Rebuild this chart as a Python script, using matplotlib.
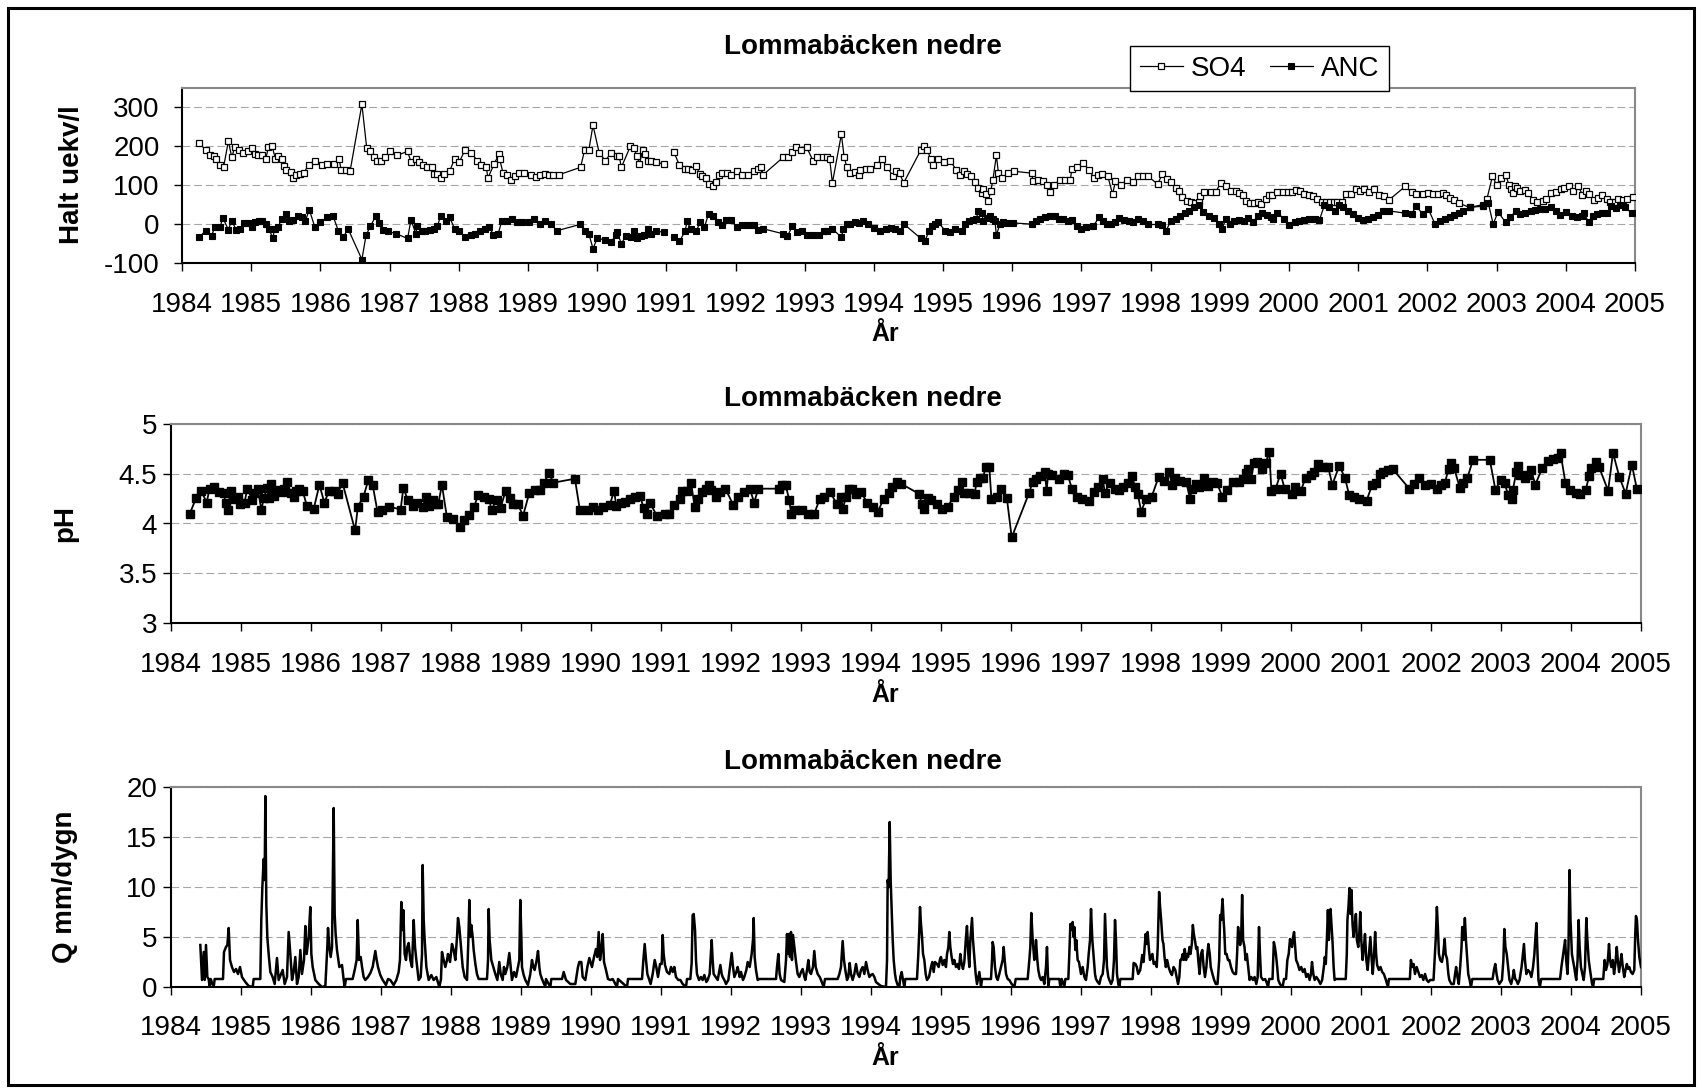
import numpy as np
import matplotlib
matplotlib.use("Agg")
import matplotlib.pyplot as plt
from matplotlib.patches import Rectangle

plt.rcParams['font.family'] = ['Liberation Sans', 'DejaVu Sans']

# ---------------- data ----------------
title_text = "Lommabäcken nedre"
year_ticks = list(range(1984, 2006))
nan = np.nan

so4_year = [
    1984.25, 1984.34, 1984.41, 1984.46, 1984.49, 1984.55, 1984.60, 1984.67, 1984.72, 1984.76,
    1984.82, 1984.88, 1984.95, 1985.01, 1985.05, 1985.10, 1985.15, 1985.21, 1985.25, 1985.30,
    1985.35, 1985.39, 1985.44, 1985.47, 1985.51, 1985.57, 1985.61, 1985.65, 1985.70, 1985.76,
    1985.83, 1985.92, 1986.02, 1986.09, 1986.19, 1986.27, 1986.30, 1986.37, 1986.43, 1986.60,
    1986.67, 1986.71, 1986.77, 1986.82, 1986.87, 1986.94, 1987.01, 1987.11, 1987.26, 1987.31,
    1987.38, 1987.43, 1987.49, 1987.54, 1987.62, 1987.64, 1987.68, 1987.74, 1987.79, 1987.87,
    1987.94, 1988.01, 1988.09, 1988.18, 1988.27, 1988.32, 1988.40, 1988.42, 1988.51, 1988.58,
    1988.59, 1988.64, 1988.70, 1988.76, 1988.81, 1988.87, 1988.95, 1989.04, 1989.11, 1989.18,
    1989.25, 1989.30, 1989.36, 1989.45, 1989.76, 1989.82, 1989.88, 1989.94, 1990.03, 1990.12,
    1990.20, 1990.28, 1990.32, 1990.35, 1990.48, 1990.53, 1990.58, 1990.61, 1990.66, 1990.69,
    1990.73, 1990.78, 1990.85, 1990.96, 1991.03,
    1991.11, 1991.19, 1991.27, 1991.32, 1991.37, 1991.43, 1991.48, 1991.51, 1991.57, 1991.61,
    1991.67, 1991.72, 1991.76, 1991.81, 1991.88, 1991.94, 1992.02, 1992.10, 1992.18, 1992.27,
    1992.33, 1992.37, 1992.40, 1992.69, 1992.76, 1992.82, 1992.87, 1992.95, 1993.03, 1993.12,
    1993.18, 1993.26, 1993.32, 1993.36, 1993.40, 1993.53, 1993.57, 1993.61, 1993.66, 1993.72,
    1993.78, 1993.80, 1993.88, 1993.95, 1994.04, 1994.11, 1994.19, 1994.28, 1994.32, 1994.37,
    1994.43, 1994.68, 1994.73, 1994.77, 1994.82, 1994.86, 1994.93, 1995.02, 1995.10, 1995.19,
    1995.25, 1995.30, 1995.34, 1995.40, 1995.46, 1995.51, 1995.56, 1995.58, 1995.62, 1995.65,
    1995.69, 1995.72, 1995.77, 1995.80, 1995.85, 1995.94, 1996.02, 1996.28, 1996.30, 1996.37,
    1996.45, 1996.50, 1996.55, 1996.60, 1996.69, 1996.76, 1996.84, 1996.86, 1996.94, 1997.02,
    1997.11, 1997.18, 1997.24, 1997.30, 1997.38, 1997.45, 1997.49, 1997.57, 1997.66, 1997.74,
    1997.81, 1997.89, 1997.96,
    1998.10, 1998.17, 1998.24, 1998.30, 1998.36, 1998.41, 1998.46, 1998.52, 1998.58, 1998.64,
    1998.70, 1998.72, 1998.77, 1998.87, 1998.94, 1999.01, 1999.09, 1999.16, 1999.23, 1999.28,
    1999.33, 1999.38, 1999.43, 1999.50, 1999.55, 1999.59, 1999.67, 1999.71, 1999.76, 1999.83,
    1999.91, 1999.98, 2000.04, 2000.10, 2000.16, 2000.22, 2000.29, 2000.35, 2000.41, 2000.48,
    2000.53, 2000.59, 2000.65, 2000.70, 2000.77, 2000.82, 2000.90, 2000.97, 2001.03, 2001.09,
    2001.16, 2001.23, 2001.30, 2001.37, 2001.45, 2001.68, 2001.77, 2001.84, 2001.93, 2002.01,
    2002.08, 2002.15, 2002.23, 2002.27, 2002.32, 2002.39, 2002.45, 2002.61, 2002.80, 2002.86,
    2002.94, 2003.00, 2003.06, 2003.13, 2003.18, 2003.21, 2003.24, 2003.26, 2003.30, 2003.34,
    2003.41, 2003.46, 2003.52, 2003.59, 2003.67, 2003.72, 2003.78, 2003.86, 2003.93, 2003.97,
    2004.05, 2004.11, 2004.18, 2004.24, 2004.29, 2004.34, 2004.41, 2004.47, 2004.53, 2004.60,
    2004.64, 2004.71, 2004.76, 2004.83, 2004.89, 2004.97,
]
so4_ueq = [
    208, 191, 178, 174, 168, 151, 146, 213, 172, 197,
    190, 183, 187, 195, 180, 178, 177, 168, 198, 202,
    168, 174, 168, 150, 140, 133, 118, 125, 130, 131,
    153, 163, 151, 154, 154, 168, 140, 140, 137, 308,
    195, 189, 172, 163, 163, 172, 187, 177, 187, 160,
    168, 160, 153, 146, 146, 129, 129, 118, 129, 137,
    168, 160, 191, 183, 163, 151, 146, 118, 154, 180,
    168, 131, 125, 114, 123, 131, 131, 127, 120, 125,
    130, 125, 125, 127, 146, 191, 191, 254, 183, 163,
    183, 174, 174, 146, 200, 195, 174, 154, 191, 180,
    163, 163, 160, 154, nan,
    185, 151, 142, 142, 140, 150, 129, 124, 118, 103,
    97, 108, 127, 131, 131, 127, 136, 127, 127, 137,
    142, 146, 127, 172, 172, 185, 197, 191, 197, 163,
    172, 172, 172, 168, 106, 231, 172, 146, 131, 134,
    127, 140, 142, 142, 151, 168, 146, 123, 137, 131,
    106, 191, 202, 191, 168, 151, 168, 160, 163, 140,
    125, 137, 129, 123, 108, 94, 80, 91, 77, 60,
    86, 114, 177, 131, 118, 131, 136, 131, 110, 114,
    110, 100, 82, 101, 114, 114, 114, 142, 146, 157,
    140, 118, 127, 129, 123, 77, 110, 101, 114, 108,
    123, 123, 123,
    103, 129, 116, 108, 93, 84, 69, 60, 57, 54,
    57, 71, 82, 82, 82, 106, 97, 86, 86, 80,
    74, 60, 54, 54, 57, 52, 65, 74, 74, 82,
    82, 82, 82, 88, 84, 77, 74, 71, 65, 58,
    57, 57, 57, 57, 57, 77, 77, 91, 86, 91,
    82, 91, 76, 71, 63, 97, 82, 77, 77, 80,
    77, 77, 80, 74, 67, 63, 54, 43, 46, 65,
    123, 101, 118, 127, 101, 91, 80, 97, 93, 86,
    88, 80, 63, 58, 60, 65, 80, 82, 91, 94,
    97, 86, 97, 76, 86, 77, 63, 67, 76, 65,
    57, 58, 65, 63, 65, 69,
]

anc_year = [
    1984.25, 1984.34, 1984.43, 1984.47, 1984.55, 1984.59, 1984.67, 1984.72, 1984.78, 1984.84,
    1984.89, 1984.96, 1985.01, 1985.06, 1985.12, 1985.16, 1985.22, 1985.26, 1985.31, 1985.34,
    1985.39, 1985.44, 1985.50, 1985.55, 1985.61, 1985.68, 1985.73, 1985.78, 1985.84, 1985.92,
    1986.00, 1986.09, 1986.18, 1986.26, 1986.33, 1986.40, 1986.60, 1986.66, 1986.72, 1986.80,
    1986.85, 1986.91, 1986.98, 1987.10, 1987.26, 1987.31, 1987.38, 1987.40, 1987.47, 1987.51,
    1987.58, 1987.64, 1987.69, 1987.74, 1987.81, 1987.87, 1987.94, 1988.00, 1988.09, 1988.18,
    1988.24, 1988.31, 1988.38, 1988.44, 1988.50, 1988.57, 1988.62, 1988.70, 1988.77, 1988.84,
    1988.92, 1989.01, 1989.09, 1989.18, 1989.25, 1989.33, 1989.42, 1989.75, 1989.82, 1989.88,
    1989.94, 1990.00, 1990.11, 1990.20, 1990.27, 1990.29, 1990.35, 1990.41, 1990.49, 1990.53,
    1990.57, 1990.63, 1990.68, 1990.73, 1990.78, 1990.85, 1990.96, 1991.03,
    1991.11, 1991.19, 1991.27, 1991.30, 1991.35, 1991.43, 1991.49, 1991.55, 1991.61, 1991.67,
    1991.74, 1991.80, 1991.86, 1991.93, 1992.02, 1992.10, 1992.18, 1992.27, 1992.33, 1992.40,
    1992.69, 1992.75, 1992.82, 1992.89, 1992.96, 1993.04, 1993.12, 1993.20, 1993.28, 1993.32,
    1993.40, 1993.53, 1993.56, 1993.61, 1993.66, 1993.72, 1993.78, 1993.84, 1993.92, 1994.00,
    1994.09, 1994.17, 1994.24, 1994.31, 1994.37, 1994.44, 1994.68, 1994.74, 1994.79, 1994.84,
    1994.89, 1994.93, 1995.03, 1995.10, 1995.17, 1995.27, 1995.32, 1995.37, 1995.43, 1995.48,
    1995.51, 1995.56, 1995.58, 1995.63, 1995.68, 1995.72, 1995.75, 1995.77, 1995.82, 1995.87,
    1995.93, 1996.01, 1996.28, 1996.34, 1996.40, 1996.47, 1996.54, 1996.62, 1996.68, 1996.74,
    1996.81, 1996.87, 1996.93, 1997.00, 1997.07, 1997.17, 1997.25, 1997.31, 1997.37, 1997.42,
    1997.48, 1997.54, 1997.61, 1997.68, 1997.74, 1997.81, 1997.89, 1997.96,
    1998.10, 1998.17, 1998.22, 1998.29, 1998.36, 1998.43, 1998.50, 1998.56, 1998.63, 1998.70,
    1998.76, 1998.84, 1998.92, 1998.99, 1999.03, 1999.09, 1999.14, 1999.21, 1999.28, 1999.35,
    1999.41, 1999.48, 1999.55, 1999.61, 1999.68, 1999.74, 1999.77, 1999.83, 1999.93, 2000.00,
    2000.08, 2000.15, 2000.22, 2000.29, 2000.37, 2000.44, 2000.51, 2000.58, 2000.66, 2000.72,
    2000.78, 2000.85, 2000.92, 2000.99, 2001.07, 2001.14, 2001.21, 2001.28, 2001.36, 2001.44,
    2001.68, 2001.77, 2001.84, 2001.93, 2002.01, 2002.11, 2002.18, 2002.25, 2002.32, 2002.39,
    2002.45, 2002.51, 2002.61, 2002.80, 2002.88, 2002.95, 2003.02, 2003.13, 2003.19, 2003.28,
    2003.34, 2003.41, 2003.49, 2003.55, 2003.62, 2003.70, 2003.78, 2003.86, 2003.92, 2004.00,
    2004.09, 2004.16, 2004.23, 2004.26, 2004.33, 2004.39, 2004.45, 2004.52, 2004.60, 2004.66,
    2004.73, 2004.78, 2004.86, 2004.95,
]
anc_ueq = [
    -34, -17, -30, -8, -8, 16, -14, 9, -14, -12,
    3, 3, -8, 5, 9, 7, -1, -12, -37, -12,
    -8, 14, 26, 9, 11, 20, 17, 7, 37, -8,
    5, 17, 22, -17, -34, -12, -91, -29, -6, 20,
    3, -14, -19, -25, -37, 11, -25, -6, -19, -17,
    -14, -12, -6, 22, 9, 17, -12, -17, -34, -29,
    -25, -17, -12, -8, -27, -25, 7, 9, 14, 5,
    5, 5, 14, -1, 9, -1, -17, -1, -17, -25,
    -63, -37, -40, -46, -29, -20, -51, -31, -34, -19,
    -37, -31, -29, -12, -25, -19, -20, nan,
    -34, -44, -19, 7, -12, -19, 5, -8, 26, 20,
    5, -3, 11, 11, -8, -3, -3, -3, -14, -12,
    -25, -31, -6, -20, -17, -29, -29, -29, -17, -19,
    -12, -34, -12, 0, -1, 5, 3, 7, -1, -10,
    -19, -12, -10, -12, -19, -1, -37, -44, -19, -6,
    0, 5, -17, -20, -12, -19, 0, 7, 11, 14,
    34, 28, 7, 16, 20, 14, 7, -29, 0, 5,
    3, 3, 0, 9, 14, 17, 22, 20, 14, 14,
    9, 11, -6, -12, -8, -6, 17, 9, -1, 0,
    5, 16, 11, 9, 5, 14, 9, -1,
    -1, -3, -19, 9, 14, 20, 28, 34, 43, 50,
    31, 22, 16, 0, -12, 14, 0, 9, 11, 9,
    16, 5, 22, 28, 24, 17, 14, 28, 14, -3,
    5, 9, 11, 14, 14, 11, 48, 43, 34, 50,
    43, 33, 26, 16, 11, 14, 17, 24, 34, 34,
    28, 26, 46, 26, 40, 0, 7, 14, 17, 24,
    28, 34, 43, 50, 54, 0, 31, 5, 17, 34,
    26, 28, 33, 37, 40, 40, 43, 34, 24, 31,
    20, 17, 20, 28, 5, 20, 26, 28, 28, 46,
    41, 48, 43, 28,
]

ph_year = [
    1984.27, 1984.36, 1984.43, 1984.51, 1984.55, 1984.61, 1984.68, 1984.75, 1984.78, 1984.81,
    1984.85, 1984.90, 1984.95, 1984.98, 1985.05, 1985.09, 1985.16, 1985.19, 1985.24, 1985.29,
    1985.33, 1985.37, 1985.40, 1985.43, 1985.47, 1985.52, 1985.58, 1985.61, 1985.66, 1985.71,
    1985.76, 1985.78, 1985.83, 1985.88, 1985.94, 1986.04, 1986.12, 1986.19, 1986.26, 1986.33,
    1986.38, 1986.45, 1986.63, 1986.67, 1986.75, 1986.82, 1986.88, 1986.95, 1987.02, 1987.12,
    1987.28, 1987.32, 1987.38, 1987.45, 1987.52, 1987.60, 1987.64, 1987.69, 1987.74, 1987.79,
    1987.82, 1987.87, 1987.94, 1988.03, 1988.13, 1988.19, 1988.26, 1988.33, 1988.39, 1988.47,
    1988.54, 1988.58, 1988.65, 1988.71, 1988.78, 1988.84, 1988.89, 1988.95, 1989.03, 1989.12,
    1989.20, 1989.27, 1989.33, 1989.40, 1989.46, 1989.77, 1989.84, 1989.96, 1990.03, 1990.10,
    1990.17, 1990.27, 1990.33, 1990.36, 1990.43, 1990.49, 1990.55, 1990.63, 1990.70, 1990.75,
    1990.80, 1990.84, 1990.94, 1991.05,
    1991.11, 1991.19, 1991.27, 1991.30, 1991.37, 1991.43, 1991.48, 1991.53, 1991.59, 1991.64,
    1991.69, 1991.72, 1991.78, 1991.84, 1991.92, 1992.03, 1992.10, 1992.18, 1992.27, 1992.33,
    1992.39, 1992.68, 1992.73, 1992.78, 1992.83, 1992.86, 1992.91, 1993.01, 1993.10, 1993.19,
    1993.27, 1993.33, 1993.41, 1993.51, 1993.57, 1993.60, 1993.64, 1993.68, 1993.73, 1993.78,
    1993.86, 1993.94, 1994.03, 1994.10, 1994.18, 1994.26, 1994.30, 1994.37, 1994.43, 1994.68,
    1994.73, 1994.76, 1994.81, 1994.86, 1994.94, 1995.01, 1995.10, 1995.18, 1995.24, 1995.30,
    1995.33, 1995.40, 1995.48, 1995.51, 1995.56, 1995.60, 1995.64, 1995.69, 1995.72, 1995.80,
    1995.86, 1995.94, 1996.01, 1996.26, 1996.31, 1996.35, 1996.41, 1996.48, 1996.51, 1996.53,
    1996.59, 1996.69, 1996.75, 1996.81, 1996.87, 1996.94, 1997.01, 1997.12, 1997.18, 1997.24,
    1997.31, 1997.34, 1997.41, 1997.48, 1997.54, 1997.60, 1997.67, 1997.73, 1997.77, 1997.81,
    1997.86, 1997.93,
    1998.01, 1998.11, 1998.18, 1998.26, 1998.30, 1998.34, 1998.42, 1998.50, 1998.56, 1998.58,
    1998.64, 1998.69, 1998.76, 1998.82, 1998.88, 1998.94, 1999.02, 1999.08, 1999.17, 1999.25,
    1999.32, 1999.36, 1999.39, 1999.43, 1999.47, 1999.51, 1999.58, 1999.64, 1999.69, 1999.72,
    1999.78, 1999.85, 1999.91, 2000.01, 2000.06, 2000.14, 2000.21, 2000.28, 2000.33, 2000.39,
    2000.45, 2000.53, 2000.59, 2000.69, 2000.77, 2000.83, 2000.90, 2000.97, 2001.08, 2001.16,
    2001.21, 2001.27, 2001.32, 2001.38, 2001.45, 2001.69, 2001.76, 2001.83, 2001.92, 2002.00,
    2002.08, 2002.14, 2002.20, 2002.25, 2002.29, 2002.33, 2002.41, 2002.46, 2002.52, 2002.60,
    2002.84, 2002.92, 2003.00, 2003.05, 2003.10, 2003.15, 2003.17, 2003.22, 2003.24, 2003.27,
    2003.34, 2003.39, 2003.43, 2003.49, 2003.59, 2003.67, 2003.74, 2003.81, 2003.85, 2003.92,
    2003.99, 2004.07, 2004.13, 2004.21, 2004.26, 2004.29, 2004.35, 2004.40, 2004.53, 2004.60,
    2004.69, 2004.78, 2004.87, 2004.94,
]
ph_value = [
    4.10, 4.26, 4.33, 4.21, 4.35, 4.37, 4.32, 4.31, 4.21, 4.14,
    4.33, 4.25, 4.27, 4.20, 4.21, 4.35, 4.24, 4.31, 4.35, 4.14,
    4.26, 4.36, 4.26, 4.40, 4.28, 4.34, 4.32, 4.35, 4.42, 4.31,
    4.27, 4.33, 4.35, 4.33, 4.18, 4.15, 4.39, 4.21, 4.33, 4.33,
    4.30, 4.41, 3.93, 4.17, 4.27, 4.44, 4.39, 4.12, 4.14, 4.17,
    4.14, 4.36, 4.24, 4.18, 4.21, 4.17, 4.27, 4.18, 4.24, 4.20,
    4.20, 4.39, 4.07, 4.05, 3.96, 4.04, 4.09, 4.17, 4.29, 4.27,
    4.25, 4.14, 4.24, 4.16, 4.33, 4.26, 4.20, 4.20, 4.08, 4.31,
    4.34, 4.34, 4.41, 4.51, 4.41, 4.45, 4.14, 4.14, 4.17, 4.14,
    4.17, 4.19, 4.33, 4.18, 4.21, 4.22, 4.25, 4.27, 4.28, 4.16,
    4.10, 4.21, 4.08, 4.10,
    4.10, 4.19, 4.25, 4.33, 4.33, 4.41, 4.17, 4.25, 4.32, 4.35,
    4.39, 4.34, 4.27, 4.32, 4.35, 4.19, 4.27, 4.32, 4.35, 4.21,
    4.35, 4.35, 4.39, 4.39, 4.24, 4.10, 4.14, 4.14, 4.10, 4.10,
    4.25, 4.27, 4.32, 4.20, 4.27, 4.15, 4.27, 4.35, 4.35, 4.30,
    4.32, 4.21, 4.17, 4.12, 4.25, 4.31, 4.37, 4.42, 4.40, 4.30,
    4.20, 4.15, 4.26, 4.24, 4.20, 4.15, 4.17, 4.27, 4.34, 4.42,
    4.31, 4.31, 4.30, 4.42, 4.46, 4.46, 4.57, 4.57, 4.25, 4.27,
    4.35, 4.26, 3.86, 4.31, 4.42, 4.45, 4.48, 4.52, 4.33, 4.50,
    4.49, 4.45, 4.50, 4.49, 4.35, 4.27, 4.25, 4.23, 4.32, 4.37,
    4.45, 4.31, 4.41, 4.35, 4.34, 4.37, 4.41, 4.48, 4.37, 4.30,
    4.12, 4.25,
    4.27, 4.47, 4.43, 4.52, 4.39, 4.46, 4.43, 4.42, 4.25, 4.35,
    4.40, 4.37, 4.46, 4.38, 4.42, 4.41, 4.27, 4.34, 4.42, 4.42,
    4.45, 4.51, 4.55, 4.45, 4.61, 4.62, 4.55, 4.61, 4.72, 4.33,
    4.35, 4.50, 4.35, 4.30, 4.37, 4.33, 4.46, 4.49, 4.52, 4.60,
    4.57, 4.57, 4.39, 4.58, 4.46, 4.29, 4.27, 4.25, 4.23, 4.39,
    4.41, 4.50, 4.52, 4.54, 4.55, 4.35, 4.40, 4.46, 4.39, 4.40,
    4.35, 4.39, 4.41, 4.55, 4.61, 4.56, 4.36, 4.41, 4.46, 4.64,
    4.64, 4.34, 4.44, 4.41, 4.29, 4.25, 4.34, 4.52, 4.58, 4.49,
    4.46, 4.49, 4.54, 4.39, 4.56, 4.63, 4.65, 4.66, 4.71, 4.41,
    4.34, 4.31, 4.30, 4.34, 4.48, 4.56, 4.62, 4.57, 4.33, 4.71,
    4.47, 4.30, 4.59, 4.35,
]

q_year = [
    1984.419, 1984.443, 1984.467, 1984.481, 1984.500, 1984.519, 1984.538, 1984.552, 1984.567, 1984.610,
    1984.624, 1984.743, 1984.757, 1984.786, 1984.805, 1984.824, 1984.843, 1984.871, 1984.900, 1984.929,
    1984.957, 1984.986, 1985.014, 1985.062, 1985.110, 1985.167, 1985.181, 1985.276, 1985.290, 1985.305,
    1985.324, 1985.338, 1985.348, 1985.362, 1985.376, 1985.395, 1985.419, 1985.452, 1985.481, 1985.514,
    1985.538, 1985.567, 1985.595, 1985.624, 1985.657, 1985.681, 1985.705, 1985.729, 1985.752, 1985.776,
    1985.800, 1985.824, 1985.848, 1985.871, 1985.900, 1985.919, 1985.938, 1985.967, 1985.990, 1986.005,
    1986.024, 1986.062, 1986.110, 1986.157, 1986.205, 1986.233, 1986.243, 1986.262, 1986.281, 1986.300,
    1986.324, 1986.338, 1986.352, 1986.371, 1986.405, 1986.443, 1986.467, 1986.481, 1986.500, 1986.595,
    1986.624, 1986.652, 1986.667, 1986.686, 1986.710, 1986.729, 1986.752, 1986.776, 1986.814, 1986.848,
    1986.881, 1986.919, 1986.938, 1986.957, 1986.990, 1987.024, 1987.071, 1987.100, 1987.133, 1987.181,
    1987.219, 1987.252, 1987.271, 1987.290, 1987.305, 1987.319, 1987.338, 1987.357, 1987.376, 1987.395,
    1987.419, 1987.443, 1987.467, 1987.486, 1987.505, 1987.538, 1987.567, 1987.586, 1987.595, 1987.610,
    1987.624, 1987.648, 1987.681, 1987.719, 1987.752, 1987.790, 1987.833, 1987.857, 1987.871, 1987.895,
    1987.919, 1987.943, 1987.957, 1987.986, 1988.014, 1988.038, 1988.062, 1988.086, 1988.100, 1988.119,
    1988.143, 1988.167, 1988.195, 1988.229, 1988.248, 1988.262, 1988.276, 1988.290, 1988.310, 1988.324,
    1988.348, 1988.371, 1988.395, 1988.514, 1988.529, 1988.538, 1988.552, 1988.576, 1988.605, 1988.633,
    1988.662, 1988.690, 1988.710, 1988.738, 1988.757, 1988.776, 1988.805, 1988.833, 1988.852, 1988.871,
    1988.900, 1988.929, 1988.957, 1988.976, 1988.990, 1989.005, 1989.014, 1989.038, 1989.062, 1989.100,
    1989.133, 1989.157, 1989.176, 1989.195, 1989.224, 1989.243, 1989.262, 1989.276, 1989.300, 1989.348,
    1989.357, 1989.419, 1989.433, 1989.586, 1989.610, 1989.643, 1989.705, 1989.776, 1989.814, 1989.833,
    1989.862, 1989.881, 1989.919, 1989.948, 1989.976, 1990.014, 1990.043, 1990.071, 1990.090, 1990.110,
    1990.129, 1990.148, 1990.167, 1990.186, 1990.214, 1990.243, 1990.276, 1990.310, 1990.371, 1990.386,
    1990.514, 1990.529, 1990.729, 1990.748, 1990.767, 1990.786, 1990.805, 1990.833, 1990.852, 1990.881,
    1990.910, 1990.933, 1990.957, 1990.986, 1991.010, 1991.024, 1991.038, 1991.057, 1991.086, 1991.119,
    1991.143, 1991.167, 1991.190, 1991.214, 1991.248, 1991.276, 1991.310, 1991.357, 1991.371, 1991.419,
    1991.438, 1991.452, 1991.467, 1991.486, 1991.500, 1991.514, 1991.543, 1991.571, 1991.595, 1991.619,
    1991.648, 1991.667, 1991.695, 1991.724, 1991.738, 1991.752, 1991.781, 1991.810, 1991.848, 1991.867,
    1991.881, 1991.905, 1991.929, 1991.962, 1991.990, 1992.010, 1992.029, 1992.048, 1992.076, 1992.095,
    1992.124, 1992.143, 1992.171, 1992.190, 1992.219, 1992.238, 1992.267, 1992.295, 1992.314, 1992.324,
    1992.338, 1992.357, 1992.381, 1992.405, 1992.643, 1992.657, 1992.676, 1992.695, 1992.714, 1992.762,
    1992.786, 1992.800, 1992.814, 1992.829, 1992.843, 1992.857, 1992.871, 1992.886, 1992.905, 1992.929,
    1992.952, 1992.976, 1993.000, 1993.024, 1993.048, 1993.062, 1993.086, 1993.105, 1993.124, 1993.143,
    1993.171, 1993.190, 1993.210, 1993.238, 1993.267, 1993.286, 1993.324, 1993.343, 1993.524, 1993.548,
    1993.571, 1993.595, 1993.614, 1993.633, 1993.657, 1993.676, 1993.695, 1993.714, 1993.738, 1993.762,
    1993.786, 1993.810, 1993.833, 1993.857, 1993.881, 1993.905, 1993.929, 1993.952, 1993.976, 1994.000,
    1994.024, 1994.048, 1994.071, 1994.105, 1994.143, 1994.214, 1994.229, 1994.238, 1994.252, 1994.267,
    1994.281, 1994.295, 1994.310, 1994.324, 1994.343, 1994.357, 1994.381, 1994.405, 1994.419, 1994.438,
    1994.457, 1994.476, 1994.490, 1994.657, 1994.676, 1994.690, 1994.700, 1994.714, 1994.729, 1994.743,
    1994.762, 1994.781, 1994.800, 1994.829, 1994.857, 1994.876, 1994.895, 1994.914, 1994.943, 1994.967,
    1994.986, 1995.000, 1995.024, 1995.048, 1995.071, 1995.086, 1995.105, 1995.119, 1995.133, 1995.152,
    1995.171, 1995.190, 1995.214, 1995.238, 1995.257, 1995.276, 1995.295, 1995.314, 1995.333, 1995.357,
    1995.371, 1995.390, 1995.405, 1995.419, 1995.443, 1995.457, 1995.476, 1995.495, 1995.514, 1995.533,
    1995.548, 1995.562, 1995.571, 1995.586, 1995.714, 1995.729, 1995.738, 1995.752, 1995.771, 1995.790,
    1995.810, 1995.833, 1995.857, 1995.881, 1995.895, 1995.910, 1995.929, 1995.952, 1995.976, 1996.010,
    1996.048, 1996.067, 1996.238, 1996.262, 1996.276, 1996.290, 1996.310, 1996.333, 1996.348, 1996.357,
    1996.376, 1996.390, 1996.410, 1996.429, 1996.452, 1996.476, 1996.500, 1996.514, 1996.524, 1996.533,
    1996.548, 1996.690, 1996.705, 1996.724, 1996.762, 1996.776, 1996.819, 1996.833, 1996.848, 1996.862,
    1996.881, 1996.895, 1996.905, 1996.919, 1996.933, 1996.952, 1996.971, 1997.000, 1997.024, 1997.048,
    1997.071, 1997.095, 1997.110, 1997.129, 1997.143, 1997.162, 1997.181, 1997.200, 1997.214, 1997.238,
    1997.262, 1997.286, 1997.310, 1997.329, 1997.343, 1997.357, 1997.371, 1997.390, 1997.405, 1997.429,
    1997.452, 1997.471, 1997.486, 1997.500, 1997.514, 1997.533, 1997.548, 1997.562, 1997.738, 1997.752,
    1997.778, 1997.797, 1997.817, 1997.846, 1997.875, 1997.894, 1997.923, 1997.937, 1997.952, 1997.971,
    1997.986, 1998.000, 1998.019, 1998.039, 1998.058, 1998.082, 1998.096, 1998.116, 1998.130, 1998.145,
    1998.164, 1998.178, 1998.193, 1998.212, 1998.231, 1998.251, 1998.275, 1998.299, 1998.323, 1998.347,
    1998.366, 1998.386, 1998.405, 1998.419, 1998.434, 1998.453, 1998.468, 1998.482, 1998.501, 1998.516,
    1998.530, 1998.550, 1998.564, 1998.583, 1998.598, 1998.612, 1998.627, 1998.646, 1998.661, 1998.675,
    1998.694, 1998.714, 1998.733, 1998.752, 1998.771, 1998.791, 1998.805, 1998.820, 1998.839, 1998.853,
    1998.878, 1998.902, 1998.926, 1998.950, 1998.974, 1998.988, 1999.003, 1999.022, 1999.037, 1999.046,
    1999.061, 1999.080, 1999.099, 1999.119, 1999.143, 1999.167, 1999.191, 1999.215, 1999.230, 1999.244,
    1999.258, 1999.273, 1999.287, 1999.302, 1999.316, 1999.336, 1999.350, 1999.369, 1999.389, 1999.408,
    1999.432, 1999.456, 1999.480, 1999.504, 1999.524, 1999.543, 1999.557, 1999.572, 1999.601, 1999.630,
    1999.649, 1999.673, 1999.688, 1999.736, 1999.755, 1999.770, 1999.784, 1999.803, 1999.818, 1999.842,
    1999.880, 1999.900, 1999.929, 1999.948, 1999.967, 1999.986, 2000.001, 2000.015, 2000.030, 2000.044,
    2000.059, 2000.073, 2000.097, 2000.121, 2000.146, 2000.170, 2000.194, 2000.218, 2000.242, 2000.266,
    2000.285, 2000.300, 2000.319, 2000.338, 2000.363, 2000.391, 2000.420, 2000.445, 2000.469, 2000.483,
    2000.497, 2000.512, 2000.527, 2000.541, 2000.555, 2000.565, 2000.580, 2000.594, 2000.609, 2000.623,
    2000.642, 2000.782, 2000.797, 2000.806, 2000.821, 2000.835, 2000.850, 2000.864, 2000.879, 2000.893,
    2000.907, 2000.927, 2000.941, 2000.961, 2000.975, 2000.989, 2001.004, 2001.023, 2001.042, 2001.057,
    2001.076, 2001.095, 2001.114, 2001.134, 2001.153, 2001.168, 2001.187, 2001.202, 2001.216, 2001.230,
    2001.255, 2001.279, 2001.303, 2001.327, 2001.356, 2001.385, 2001.399, 2001.698, 2001.713, 2001.732,
    2001.751, 2001.771, 2001.795, 2001.819, 2001.843, 2001.867, 2001.891, 2001.915, 2001.939, 2001.963,
    2001.987, 2002.012, 2002.036, 2002.055, 2002.069, 2002.084, 2002.098, 2002.113, 2002.132, 2002.156,
    2002.175, 2002.195, 2002.209, 2002.229, 2002.248, 2002.262, 2002.291, 2002.325, 2002.344, 2002.359,
    2002.378, 2002.397, 2002.417, 2002.436, 2002.446, 2002.465, 2002.484, 2002.499, 2002.518, 2002.532,
    2002.552, 2002.571, 2002.590, 2002.880, 2002.899, 2002.918, 2002.937, 2002.952, 2002.976, 2003.014,
    2003.034, 2003.048, 2003.063, 2003.082, 2003.101, 2003.121, 2003.145, 2003.169, 2003.183, 2003.203,
    2003.217, 2003.241, 2003.265, 2003.294, 2003.313, 2003.328, 2003.342, 2003.362, 2003.386, 2003.410,
    2003.434, 2003.458, 2003.477, 2003.492, 2003.506, 2003.521, 2003.535, 2003.555, 2003.574, 2003.844,
    2003.863, 2003.882, 2003.902, 2003.916, 2003.931, 2003.950, 2003.964, 2003.979, 2003.993, 2004.013,
    2004.027, 2004.046, 2004.060, 2004.075, 2004.094, 2004.109, 2004.123, 2004.142, 2004.162, 2004.181,
    2004.200, 2004.219, 2004.234, 2004.253, 2004.272, 2004.287, 2004.301, 2004.316, 2004.331, 2004.461,
    2004.480, 2004.499, 2004.519, 2004.533, 2004.543, 2004.557, 2004.576, 2004.596, 2004.615, 2004.634,
    2004.654, 2004.668, 2004.687, 2004.707, 2004.721, 2004.740, 2004.760, 2004.779, 2004.798, 2004.817,
    2004.832, 2004.856, 2004.880, 2004.904, 2004.918, 2004.928, 2004.942, 2004.957, 2004.976, 2005.000,
]
q_mm = [
    4.2, 0.7, 3.5, 0.7, 4.2, 1.0, 0.8, 0, 0.8, 0,
    0.8, 0.8, 3.5, 4.0, 4.2, 5.9, 2.7, 2.0, 1.5, 1.8,
    1.3, 2.0, 1.0, 0.5, 0.1, 0, 0.8, 0.8, 6.7, 10.0,
    12.8, 10.7, 19.1, 8.2, 5.0, 3.3, 1.5, 1.0, 0.3, 2.9,
    0.7, 1.2, 1.7, 0.3, 1.0, 5.5, 3.3, 0.7, 1.5, 3.0,
    0.3, 1.0, 3.7, 1.3, 2.7, 6.1, 3.3, 5.0, 8.0, 3.3,
    2.0, 0.7, 0.3, 0, 0.1, 4.0, 5.9, 4.0, 3.0, 4.0,
    17.9, 7.3, 5.3, 3.7, 2.0, 2.2, 0.7, 0, 0.8, 0.8,
    1.7, 2.7, 6.7, 2.7, 3.0, 2.0, 1.0, 0.7, 1.0, 1.4,
    2.0, 3.6, 2.7, 2.0, 1.2, 0.7, 0.2, 0.8, 0.7, 0.2,
    0.7, 1.5, 2.7, 8.5, 5.7, 7.7, 3.3, 2.7, 4.0, 4.4,
    2.7, 2.0, 6.7, 4.0, 2.7, 0.7, 1.0, 3.3, 12.2, 6.7,
    4.7, 2.0, 0.7, 1.2, 0.7, 1.0, 0, 0.8, 3.5, 2.7,
    2.0, 2.7, 3.3, 2.5, 4.3, 3.7, 2.7, 5.0, 6.9, 6.0,
    4.0, 2.0, 1.0, 0.7, 4.7, 8.7, 5.0, 6.2, 5.0, 3.7,
    2.3, 1.3, 0.8, 0.8, 2.7, 7.8, 4.7, 2.7, 2.0, 1.3,
    0.7, 2.5, 1.3, 0.7, 2.0, 1.3, 2.0, 3.4, 2.0, 0.7,
    1.5, 1.0, 2.0, 2.7, 8.7, 5.0, 2.0, 1.2, 0.7, 0.2,
    1.3, 2.7, 2.0, 1.7, 2.7, 3.6, 2.0, 1.3, 0.8, 0,
    0.8, 0, 0.8, 0.8, 1.5, 0.7, 0.3, 0.3, 2.0, 2.5,
    2.5, 1.0, 0.7, 2.0, 2.9, 2.0, 3.0, 3.8, 3.0, 5.5,
    2.7, 3.7, 5.3, 2.5, 1.7, 0.8, 0.7, 0.8, 0, 0.8,
    0, 0.8, 0.8, 2.7, 4.3, 2.7, 1.3, 0.7, 0.3, 1.3,
    2.7, 2.0, 1.0, 2.3, 2.3, 5.2, 3.3, 2.2, 1.5, 1.3,
    2.0, 1.5, 2.0, 1.0, 0.7, 0.7, 0.3, 0, 0.8, 0.8,
    2.4, 7.2, 7.3, 5.7, 2.7, 1.3, 0.7, 1.0, 0.7, 1.2,
    0.5, 0.7, 1.3, 4.7, 2.7, 1.3, 1.0, 0.7, 2.2, 1.3,
    1.0, 0.7, 0.3, 0.7, 2.3, 3.4, 2.0, 1.0, 1.5, 2.0,
    1.0, 1.5, 0.7, 1.0, 1.7, 2.5, 2.0, 3.3, 4.7, 6.9,
    3.0, 1.7, 0.7, 0.8, 0.8, 2.0, 3.3, 1.3, 0.7, 0.5,
    2.7, 5.3, 3.3, 5.3, 3.0, 5.5, 2.7, 5.2, 4.0, 2.5,
    1.3, 1.0, 1.5, 1.8, 1.0, 0.7, 1.7, 2.7, 1.5, 1.3,
    2.0, 3.6, 2.0, 1.3, 1.0, 0.7, 0, 0.8, 0.8, 1.3,
    2.0, 4.6, 2.7, 1.7, 0.7, 1.0, 2.4, 1.3, 0.7, 1.3,
    2.3, 1.3, 1.0, 1.7, 2.0, 1.3, 2.5, 1.7, 1.0, 1.2,
    1.3, 1.0, 0.5, 0.3, 0.1, 0, 2.7, 10.7, 10.0, 16.5,
    10.7, 7.7, 4.7, 2.7, 1.3, 0.7, 0.2, 0, 1.0, 1.5,
    0.7, 0, 0.8, 0.8, 3.3, 5.7, 8.0, 6.3, 5.0, 3.3,
    2.7, 1.3, 0.7, 1.0, 2.0, 2.5, 1.5, 2.5, 2.3, 2.0,
    2.8, 3.0, 2.2, 2.7, 2.0, 3.3, 4.0, 5.5, 4.0, 3.0,
    2.3, 2.7, 2.0, 2.3, 1.8, 3.3, 2.3, 1.8, 2.5, 5.0,
    6.1, 3.3, 2.0, 4.7, 6.9, 4.7, 3.0, 1.3, 0.3, 1.0,
    1.5, 0.7, 0, 0.8, 0.8, 2.7, 4.5, 4.0, 2.0, 1.0,
    0.7, 1.3, 2.0, 2.7, 4.0, 2.7, 1.3, 0.8, 0.7, 0.3,
    0, 0.8, 0.8, 2.7, 4.0, 7.4, 4.7, 2.7, 3.3, 4.7,
    2.7, 1.7, 1.0, 0.7, 1.0, 0.3, 2.0, 4.0, 2.0, 0,
    0.8, 0.8, 0, 0.8, 0, 0.8, 0.8, 3.3, 6.3, 5.7,
    6.5, 5.0, 6.0, 3.7, 4.7, 2.7, 2.5, 1.3, 2.0, 1.0,
    0.7, 2.0, 3.3, 4.7, 7.8, 4.7, 3.0, 1.3, 0.8, 0.5,
    0.3, 1.0, 1.3, 2.7, 7.3, 4.7, 2.0, 1.0, 0.7, 0.3,
    0.7, 2.7, 6.7, 4.7, 1.3, 0.3, 0, 0.8, 0.8, 2.4,
    2.3, 2.0, 1.3, 1.7, 3.2, 2.5, 5.3, 4.3, 5.5, 3.7,
    2.7, 3.0, 3.3, 2.3, 2.5, 2.0, 4.0, 9.5, 8.0, 6.7,
    4.7, 4.3, 3.0, 2.0, 2.7, 2.0, 1.5, 1.2, 2.0, 1.7,
    1.0, 0.3, 1.0, 2.7, 2.7, 3.3, 2.7, 3.8, 2.7, 3.3,
    3.0, 4.0, 3.3, 4.3, 6.2, 5.3, 4.7, 3.8, 4.0, 2.7,
    1.3, 3.3, 3.7, 2.0, 1.0, 2.0, 3.3, 4.3, 3.3, 2.0,
    1.3, 0.7, 0.3, 0.3, 2.7, 7.2, 6.7, 8.8, 6.7, 5.7,
    3.3, 3.3, 2.7, 2.7, 2.0, 1.5, 1.3, 1.3, 3.3, 6.0,
    5.0, 4.2, 4.7, 9.2, 4.7, 4.0, 2.7, 3.3, 2.0, 0.7,
    1.0, 0.7, 1.0, 0.3, 1.0, 6.0, 3.3, 1.0, 0.7, 0.8,
    0.5, 0, 0.8, 0.8, 4.5, 4.0, 3.3, 2.0, 0.7, 0.3,
    0, 0.8, 0.8, 2.7, 3.3, 4.8, 4.3, 4.0, 5.0, 5.5,
    4.0, 2.7, 2.3, 1.7, 2.0, 1.5, 1.8, 1.0, 1.3, 0.7,
    1.3, 2.5, 1.3, 0.7, 1.0, 0.7, 0.3, 0.7, 2.0, 3.0,
    2.3, 4.7, 7.7, 4.7, 7.3, 7.8, 6.0, 4.4, 2.0, 0.7,
    0.8, 0.8, 3.3, 6.7, 8.0, 9.9, 7.3, 9.7, 6.3, 5.0,
    6.0, 7.3, 4.7, 4.0, 5.3, 7.5, 4.7, 2.7, 4.0, 5.3,
    2.7, 1.7, 3.3, 5.0, 2.7, 1.3, 3.3, 5.5, 3.3, 2.2,
    1.7, 2.0, 1.5, 1.3, 0.7, 0, 0.8, 0.8, 2.7, 2.0,
    2.3, 1.3, 2.0, 1.5, 1.0, 1.2, 0.7, 1.3, 0.7, 0.5,
    0.7, 0.7, 0.7, 3.3, 5.0, 8.0, 6.0, 3.3, 2.7, 2.5,
    3.3, 4.8, 3.3, 2.8, 1.3, 0.7, 0.3, 0.3, 1.3, 2.0,
    1.0, 0.3, 2.0, 4.0, 6.0, 4.7, 6.9, 4.7, 2.7, 1.3,
    0.7, 0, 0.8, 0.8, 1.7, 2.3, 1.3, 0.7, 0.3, 0.7,
    2.7, 5.8, 4.0, 3.3, 2.0, 0.7, 0.3, 1.0, 1.7, 0.8,
    0.7, 0.3, 0.7, 2.0, 3.3, 4.3, 2.7, 1.3, 1.7, 1.5,
    1.0, 2.0, 3.3, 5.0, 6.4, 3.3, 0.7, 0, 0.8, 0.8,
    2.0, 3.0, 4.0, 4.7, 2.7, 1.3, 4.0, 11.7, 6.7, 3.3,
    2.7, 2.0, 1.3, 0.7, 2.7, 6.7, 4.0, 2.0, 1.3, 0.7,
    2.0, 6.9, 4.7, 2.7, 1.7, 1.0, 0.3, 0, 0.8, 0.8,
    2.7, 1.7, 2.2, 3.3, 4.3, 2.7, 2.0, 2.7, 1.3, 2.3,
    4.0, 2.7, 1.5, 2.5, 3.3, 2.0, 1.0, 1.7, 2.3, 1.8,
    2.0, 1.5, 1.3, 1.7, 5.3, 7.1, 6.7, 4.7, 3.0, 2.0,
]

# ---------------- figure ----------------
W, H = 1702, 1089
fig = plt.figure(figsize=(W / 100, H / 100), dpi=100)
fig.patch.set_facecolor('white')


def add_ax(l, t, r, b):
    return fig.add_axes([l / W, 1 - b / H, (r - l) / W, (b - t) / H])


def style(ax, ylim, yticks, ylabels, xpad, ypad):
    ax.set_xlim(1984, 2005)
    ax.set_xticks(year_ticks)
    ax.set_xticklabels([str(y) for y in year_ticks])
    ax.set_ylim(*ylim)
    ax.set_yticks(yticks)
    ax.set_yticklabels(ylabels)
    ax.tick_params(axis='both', direction='out', length=6, width=1.0,
                   labelsize=20, color='black', labelcolor='black')
    ax.tick_params(axis='x', pad=xpad)
    ax.tick_params(axis='y', pad=ypad)
    for s in ('left', 'bottom'):
        ax.spines[s].set_color('black')
        ax.spines[s].set_linewidth(1.5)
    for s in ('top', 'right'):
        ax.spines[s].set_color('#888888')
        ax.spines[s].set_linewidth(1.5)
    ax.yaxis.grid(True, linestyle=(0, (7, 3.5)), color='#a6a6a6', linewidth=0.8)
    ax.set_axisbelow(True)


title_right = 1002 / W
cx = 885 / W


def titles(y_title, y_ar):
    fig.text(title_right, 1 - y_title / H, title_text, ha='right', va='center',
             fontsize=20, fontweight='bold')
    fig.text(cx, 1 - y_ar / H, 'År', ha='center', va='center', fontsize=18, fontweight='bold')


# --- panel 1: SO4 / ANC ---
ax1 = add_ax(182, 88, 1635, 263)
style(ax1, (-100, 350), [-100, 0, 100, 200, 300], ['-100', '0', '100', '200', '300'], 15, 10)
ax1.plot(so4_year, so4_ueq, '-', color='black', lw=0.9, marker='s', ms=4.8,
         mfc='white', mec='black', mew=0.9, label='SO4', zorder=3)
ax1.plot(anc_year, anc_ueq, '-', color='black', lw=0.9, marker='s', ms=4.3,
         mfc='black', mec='black', mew=0.8, label='ANC', zorder=3)
leg = ax1.legend(loc='center', bbox_to_anchor=(1259.5 / W, 1 - 68.5 / H),
                 bbox_transform=fig.transFigure, ncol=2, frameon=True, fancybox=False,
                 edgecolor='black', fontsize=20, handlelength=1.55, handletextpad=0.28,
                 columnspacing=0.85, borderpad=0.35, framealpha=1, borderaxespad=0)
leg.get_frame().set_linewidth(1.0)
leg.set_zorder(10)
titles(47, 334)
fig.text(72 / W, 1 - 175 / H, 'Halt uekv/l', ha='center', va='center', rotation=90,
         fontsize=20, fontweight='bold')

# --- panel 2: pH ---
ax2 = add_ax(171, 424, 1641, 623)
style(ax2, (3, 5), [3, 3.5, 4, 4.5, 5], ['3', '3.5', '4', '4.5', '5'], 15, 4)
ax2.plot(ph_year, ph_value, '-', color='black', lw=1.3, marker='s', ms=5.2,
         mfc='black', mec='black', zorder=3)
titles(399, 695.5)
fig.text(65 / W, 1 - 524 / H, 'pH', ha='center', va='center', rotation=90,
         fontsize=20, fontweight='bold')

# --- panel 3: Q ---
ax3 = add_ax(171, 787, 1641, 987)
style(ax3, (0, 20), [0, 5, 10, 15, 20], ['0', '5', '10', '15', '20'], 14, 4)
ax3.plot(q_year, q_mm, '-', color='black', lw=1.8, zorder=3)
titles(762, 1058)
fig.text(65 / W, 1 - 887 / H, 'Q mm/dygn', ha='center', va='center', rotation=90,
         fontsize=20, fontweight='bold')

# outer frame
fig.patches.append(Rectangle((8 / W, 1 - 1085 / H), (1694 - 8) / W, (1085 - 8) / H,
                             fill=False, edgecolor='black', linewidth=2.2,
                             transform=fig.transFigure, figure=fig))

fig.savefig('out.png', dpi=100, facecolor='white')
